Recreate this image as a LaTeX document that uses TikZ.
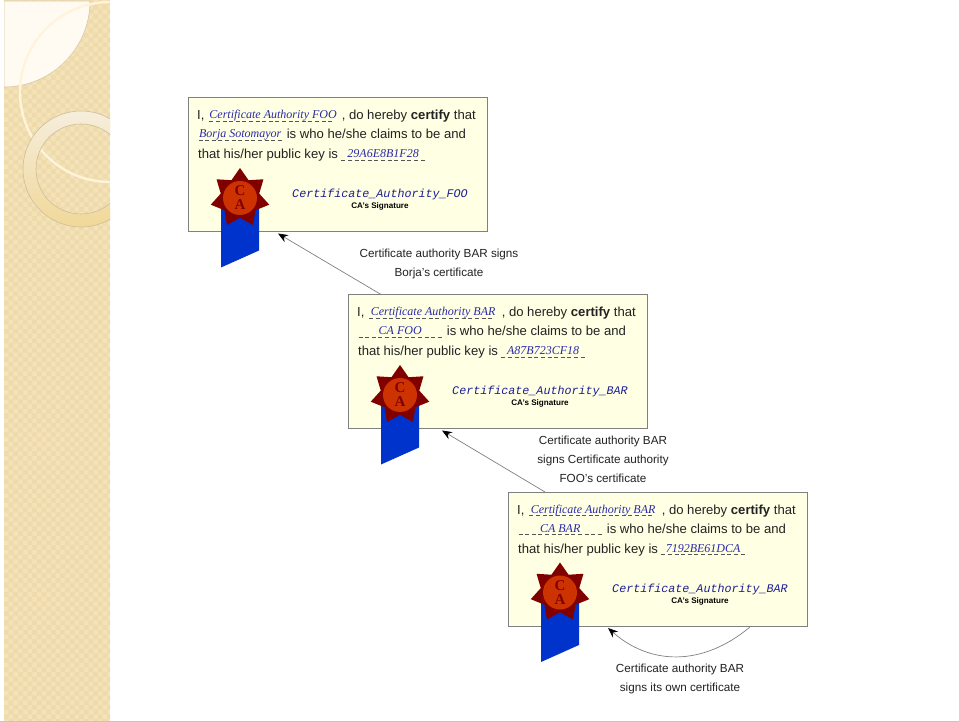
\documentclass[tikz,border=0pt]{standalone}
\usepackage{fontspec}
\setmainfont{Liberation Sans}
\newfontfamily\fillfont{Liberation Serif}
\newfontfamily\sigfont{Liberation Mono}
\newfontfamily\sealfont{Liberation Serif}
\usetikzlibrary{shapes.geometric,arrows.meta}
\definecolor{bandbase}{HTML}{F3E2BA}
\definecolor{bandcheck}{HTML}{EFDAAA}
\definecolor{cardfill}{HTML}{FFFFE3}
\definecolor{cardedge}{HTML}{808080}
\definecolor{inkblue}{HTML}{2A2AA8}
\definecolor{sigblue}{HTML}{1E1E96}
\definecolor{dashgray}{HTML}{555555}
\definecolor{sealdark}{HTML}{800000}
\definecolor{sealred}{HTML}{CC3300}
\definecolor{ribbonblue}{HTML}{0033CC}
\definecolor{bodytext}{HTML}{222222}
\definecolor{quarterfill}{HTML}{FFFBF3}
\definecolor{quarteredge}{HTML}{D8C8A8}
\definecolor{creamring}{HTML}{FFF4DA}
\definecolor{ringtop}{HTML}{F6EEDC}
\definecolor{ringbottom}{HTML}{F1D898}
\definecolor{ringedge}{HTML}{CDBD9C}
\newcommand{\dashrun}[1]{\hbox to #1{\color{dashgray}\leaders\hbox to 6.6pt{\hss\rule[-2pt]{4pt}{0.7pt}\hss}\hfill}}
\newcommand{\fillin}[2]{\makebox[0pt][l]{\dashrun{#1}}\makebox[#1][c]{\raisebox{1pt}{\fillfont\itshape\fontsize{12}{13}\selectfont\color{inkblue}#2}}}
\tikzset{
  cardbox/.style={draw=cardedge,fill=cardfill,line width=1pt,minimum width=299pt,minimum height=134pt,inner sep=0pt,outer sep=0pt,anchor=north west},
  cardline/.style={anchor=base west,inner sep=0pt,text=bodytext,font=\fontsize{13.1}{15}\selectfont},
  sigline/.style={anchor=base,inner sep=0pt,text=sigblue,font=\sigfont\itshape\fontsize{11.7}{14}\selectfont},
  sigcap/.style={anchor=center,inner sep=0pt,text=black,font=\bfseries\fontsize{8.1}{9}\selectfont},
  sealstar/.style={star,star points=7,star point ratio=1.52,fill=sealdark,minimum size=60pt,inner sep=0pt},
  sealdisc/.style={circle,fill=sealred,minimum size=34pt,inner sep=0pt,align=center,text=sealdark,font=\sealfont\bfseries\fontsize{15}{14}\selectfont},
  notetext/.style={align=center,inner sep=0pt,text=bodytext,font=\fontsize{11.7}{19}\selectfont},
  link/.style={draw=cardedge,line width=0.7pt,-{Stealth[black,length=10pt,width=8pt]}}
}
\newcommand{\card}[7]{%
  \node[cardbox] (#1) at (#2,#3) {};
  \fill[ribbonblue] ([shift={(33,111)}]#1.north west) -- ([shift={(71,111)}]#1.north west) -- ([shift={(71,153)}]#1.north west) -- ([shift={(33,170)}]#1.north west) -- cycle;
  \node[sealstar] (#1star) at ([shift={(52,100.5)}]#1.north west) {};
  \node[sealdisc] (#1disc) at (#1star.center) {C\\A};
  \node[cardline] (#1l1) at ([shift={(9,22)}]#1.north west) {I, \fillin{130pt}{#4} , do hereby \textbf{certify} that};
  \node[cardline] (#1l2) at ([shift={(9,41)}]#1.north west) {\fillin{86pt}{#5} is who he/she claims to be and};
  \node[cardline] (#1l3) at ([shift={(10,61)}]#1.north west) {that his/her public key is\hspace{-1.5pt} \fillin{86pt}{#6}};
  \node[sigline] (#1sig) at ([shift={(192,100)}]#1.north west) {#7};
  \node[sigcap] (#1cap) at ([shift={(192,109)}]#1.north west) {CA's Signature};
}
\begin{document}
\begin{tikzpicture}[x=1pt,y=-1pt]
\useasboundingbox (0,0) rectangle (959,722);
\fill[white] (0,0) rectangle (959,722);
\fill[bandbase] (4,0) rectangle (110,722);
\begin{scope}
\clip (4,0) rectangle (110,722);
\path[fill=bandcheck] \foreach \i in {0,...,11}{\foreach \j in {0,...,77}{
  (4+9.4*\i,9.4*\j) rectangle +(4.7,4.7) (8.7+9.4*\i,4.7+9.4*\j) rectangle +(4.7,4.7)}};
\draw[draw=quarteredge,fill=quarterfill,line width=0.6pt] (4,1) -- (90,1) arc[start angle=0,end angle=90,radius=86] -- cycle;
\draw[draw=creamring,line width=2.4pt] (110,92) circle[radius=90];
\shade[top color=ringtop,bottom color=ringbottom,even odd rule] (81,169) circle[radius=58] (81,169) circle[radius=45];
\draw[ringedge,line width=0.6pt] (81,169) circle[radius=58] (81,169) circle[radius=45];
\end{scope}
\draw[bandbase!70!gray,line width=0.6pt] (0,721.5) -- (959,721.5);

\card{foo}{188}{97.5}{Certificate Authority FOO}{Borja Sotomayor}{29A6E8B1F28}{Certificate\_Authority\_FOO}
\card{bar}{348}{294.5}{Certificate Authority BAR}{CA FOO}{A87B723CF18}{Certificate\_Authority\_BAR}
\card{root}{508}{492}{Certificate Authority BAR}{CA BAR}{7192BE61DCA}{Certificate\_Authority\_BAR}

\node[notetext] (n1) at (439,264) {Certificate authority BAR signs\\Borja's certificate};
\node[notetext] (n2) at (603,459.5) {Certificate authority BAR\\signs Certificate authority\\FOO's certificate};
\node[notetext] (n3) at (680,679) {Certificate authority BAR\\signs its own certificate};

\coordinate (a1s) at ([shift={(33,0)}]bar.north west);
\coordinate (a1e) at ([shift={(90,2)}]foo.south west);
\coordinate (a2s) at ([shift={(37,0)}]root.north west);
\coordinate (a2e) at ([shift={(94,2)}]bar.south west);
\coordinate (a3s) at ([shift={(242,1)}]root.south west);
\coordinate (a3e) at ([shift={(100,2)}]root.south west);
\draw[link] (a1s) -- (a1e);
\draw[link] (a2s) -- (a2e);
\draw[link] (a3s) .. controls (702,667) and (650,665) .. (a3e);
\end{tikzpicture}
\end{document}
